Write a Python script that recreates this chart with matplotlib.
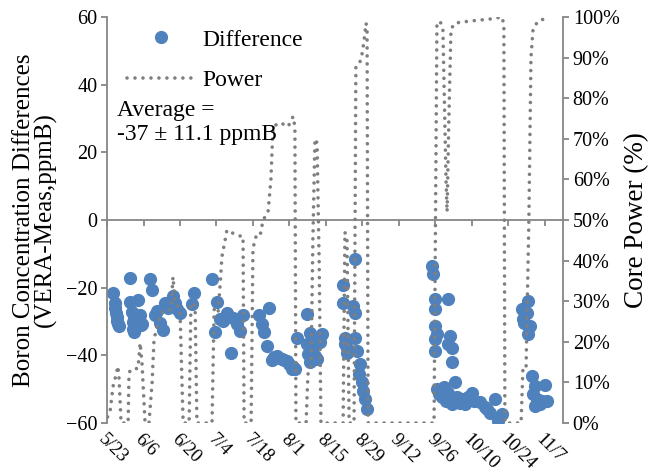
import matplotlib
matplotlib.use("Agg")
import matplotlib.pyplot as plt
from matplotlib.ticker import PercentFormatter
from matplotlib.lines import Line2D
import numpy as np

plt.rcParams['font.family'] = ['Liberation Serif', 'DejaVu Serif']

# x axis: days after 5/23
tick_days = [0, 14, 28, 42, 56, 70, 84, 98, 112, 126, 140, 154, 168]
tick_labels = ["5/23", "6/6", "6/20", "7/4", "7/18", "8/1", "8/15", "8/29",
               "9/12", "9/26", "10/10", "10/24", "11/7"]

# boron difference (VERA - measured), ppmB
diff_day = [2.4, 3.0, 3.2, 3.4, 3.7, 4.0, 4.3, 4.6,
            8.8, 8.8, 9.6, 9.8, 10.0, 10.4, 10.7, 11.2, 11.5, 12.0, 12.2, 12.7, 13.0, 13.4, 10.5,
            16.5, 17.1, 18.4, 19.0, 20.3, 21.6, 22.3, 23.5, 24.5, 25.4, 26.1, 26.7, 28.0,
            32.5, 33.5,
            40.4, 41.4, 42.1, 43.4, 44.6, 45.9, 47.5, 48.5, 49.8, 51.0, 52.3,
            58.4, 59.4, 60.2, 61.3, 62.3, 63.2, 64.0, 65.1, 66.0, 67.0, 68.0, 69.0, 70.0,
            70.9, 71.5, 72.1, 72.8,
            76.6, 76.6, 77.3, 77.9, 77.9, 78.5, 79.8, 80.5, 81.1, 81.7, 82.4,
            90.7, 90.7, 91.3, 91.3, 92.0, 92.0, 94.5, 95.2, 95.2, 95.2, 95.8, 97.1, 96.8,
            97.7, 98.4, 99.0, 99.7,
            124.6, 125.2, 125.9, 131.0, 125.9, 125.9, 126.5, 125.9, 125.9, 131.6, 131.0,
            132.3, 132.3,
            126.5, 127.5, 128.5, 129.5, 130.0, 131.0, 132.5, 133.5, 134.5, 135.5, 136.5,
            137.5, 138.5, 139.9, 141.0, 143.1, 145.0, 146.0, 147.0, 148.9, 150.2, 151.5,
            159.1, 159.8, 160.2, 161.1, 161.7, 161.7, 162.3, 163.0, 163.6, 164.2, 164.2,
            164.9, 166.2, 168.1, 168.7, 167.0]
diff_val = [-21.5, -24.5, -26.0, -27.5, -28.8, -29.8, -30.6, -31.4,
            -17.1, -24.2, -27.3, -30.0, -32.3, -29.0, -28.8, -31.5, -29.9, -23.5, -30.5, -28.2, -31.0, -30.8, -33.0,
            -17.3, -20.7, -28.1, -27.0, -30.3, -32.5, -24.4, -25.9, -24.0, -22.5, -24.4, -26.2, -27.6,
            -24.9, -21.7,
            -17.3, -33.1, -24.2, -29.4, -29.8, -27.4, -39.2, -29.1, -30.8, -32.8, -28.1,
            -28.1, -30.8, -33.1, -37.2, -26.0, -41.4, -40.5, -40.2, -40.8, -41.2, -41.5, -41.6, -42.5,
            -44.1, -43.5, -44.1, -34.8,
            -27.7, -36.7, -39.7, -33.3, -42.1, -38.2, -40.2, -41.2, -35.3, -36.2, -33.8,
            -19.2, -24.4, -34.8, -36.5, -37.7, -39.2, -25.4, -11.4, -27.4, -34.8, -38.7, -42.6, -45.6,
            -48.0, -50.5, -53.0, -55.9,
            -13.6, -16.1, -23.2, -23.2, -26.4, -31.3, -33.8, -35.3, -38.7, -34.3, -36.7,
            -37.7, -42.1,
            -50.0, -51.5, -52.4, -49.5, -53.5, -51.0, -54.5, -48.0, -52.4, -54.0, -53.0,
            -54.5, -52.4, -51.2, -53.5, -53.9, -55.4, -56.0, -56.9, -53.0, -59.3, -57.4,
            -26.4, -29.4, -30.3, -27.4, -24.0, -33.8, -31.3, -46.1, -51.5, -49.0, -54.9,
            -53.0, -54.4, -48.7, -53.5, -53.5]

# core power (%)
power_day = [0.2, 1.2, 2.3, 3.1, 4.2, 4.6, 5.4,
             8.1, 8.4, 8.8, 11.9, 12.7, 13.4, 14.6,
             16.1, 17.3, 18.0, 18.8, 20.3, 21.5, 24.6, 25.3, 26.1, 28.0, 29.2,
             31.5, 32.2, 33.8, 34.5,
             40.3, 41.1, 42.6, 43.4, 44.1, 45.3, 46.0, 49.1, 51.4, 52.2, 52.6,
             55.3, 56.0, 57.2, 58.7, 59.9, 61.8, 62.9, 63.7, 66.4, 69.5, 71.4, 72.1, 72.5,
             76.4, 77.1, 78.3, 79.0, 79.8, 80.6, 81.4, 82.1,
             90.6, 91.3, 92.1, 92.9, 94.8, 95.5, 97.1, 97.9, 98.6, 99.4, 99.8, 100.2,
             125.5, 126.6, 127.8, 128.9, 130.1, 130.5, 131.2, 132.0, 133.5, 139.3, 147.0,
             151.6, 152.3, 152.7,
             158.9, 159.6, 160.8, 161.9, 162.7, 163.5, 165.4, 170.0]
power_pct = [1.5, 3, 9, 11, 14, 11, 0,
             0, 11, 13, 13.5, 19.7, 15, 0,
             0, 10, 20, 23, 26, 27.5, 28, 36, 30, 28, 0,
             0, 29.5, 29, 0,
             0, 28, 27, 34, 41, 45, 47.5, 46.5, 46, 46, 0,
             0, 43, 46, 46, 50, 52, 60, 73, 74, 73, 75.5, 73, 0,
             0, 12, 14, 45, 70, 69, 40, 0,
             0, 47, 45, 0, 0, 88, 89, 91, 94, 98.5, 97, 0,
             0, 98, 99, 97, 60, 52, 75, 97, 98.5, 99, 99.5,
             100, 98, 0,
             0, 13, 13, 50, 90, 97, 99, 100]

blue = '#4f81bd'
gray = '#7f7f7f'
axis_gray = '#868686'

fig = plt.figure(figsize=(6.53, 4.76), dpi=100)
ax = fig.add_axes([0.1639, 0.1113, 0.6983, 0.853])
ax2 = ax.twinx()

ax.plot(diff_day, diff_val, 'o', color=blue, ms=8.5, mec=blue, label='Difference')
pw, = ax2.plot(power_day, np.array(power_pct) / 100, color=gray, lw=2.6,
               dash_capstyle='round', label='Power')
pw.set_dashes((0.01, 2.2))

ax.set_xlim(0, 175)
ax.set_ylim(-60, 60)
ax.set_yticks(np.arange(-60, 61, 20))
ax2.set_ylim(0, 1)
ax2.set_yticks(np.arange(0, 1.01, 0.1))
ax2.yaxis.set_major_formatter(PercentFormatter(1.0, decimals=0))

for a in (ax, ax2):
    a.spines['top'].set_visible(False)
    for s in a.spines.values():
        s.set_color(axis_gray)
        s.set_linewidth(1.3)
ax.spines['right'].set_visible(False)
ax2.spines['left'].set_visible(False)
ax2.spines['bottom'].set_visible(False)
ax.spines['bottom'].set_position(('data', 0))

ax.set_xticks(tick_days)
ax.set_xticklabels(tick_labels, rotation=-45, ha='left', va='top', rotation_mode='anchor')
ax.tick_params(axis='x', direction='out', length=4, color=axis_gray, width=1.3,
               pad=148, labelsize=13.5)
ax.tick_params(axis='y', direction='out', length=4, color=axis_gray, width=1.3,
               labelsize=14.5, pad=3)
ax2.tick_params(axis='y', direction='out', length=4, color=axis_gray, width=1.3,
                labelsize=14.5, pad=3)

ax.set_ylabel("Boron Concentration Differences\n(VERA-Meas,ppmB)", fontsize=18,
              linespacing=0.95)
ax.yaxis.set_label_coords(-0.11, 0.5)
ax2.set_ylabel("Core Power (%)", fontsize=19.5, labelpad=3)

handles = [Line2D([], [], ls='none', marker='o', color=blue, ms=8.5), pw]
leg = ax2.legend(handles, ['Difference', 'Power'], loc='upper left',
                 bbox_to_anchor=(0.044, 0.97), frameon=False, fontsize=17,
                 handlelength=2.9, handletextpad=0.3, labelspacing=0.8,
                 borderpad=0, borderaxespad=0)

ax2.text(0.022, 0.795, "Average =\n-37 \u00b1 11.1 ppmB", transform=ax.transAxes,
         fontsize=17, va='top', ha='left', linespacing=1.2)

fig.savefig("out.png", dpi=100)
